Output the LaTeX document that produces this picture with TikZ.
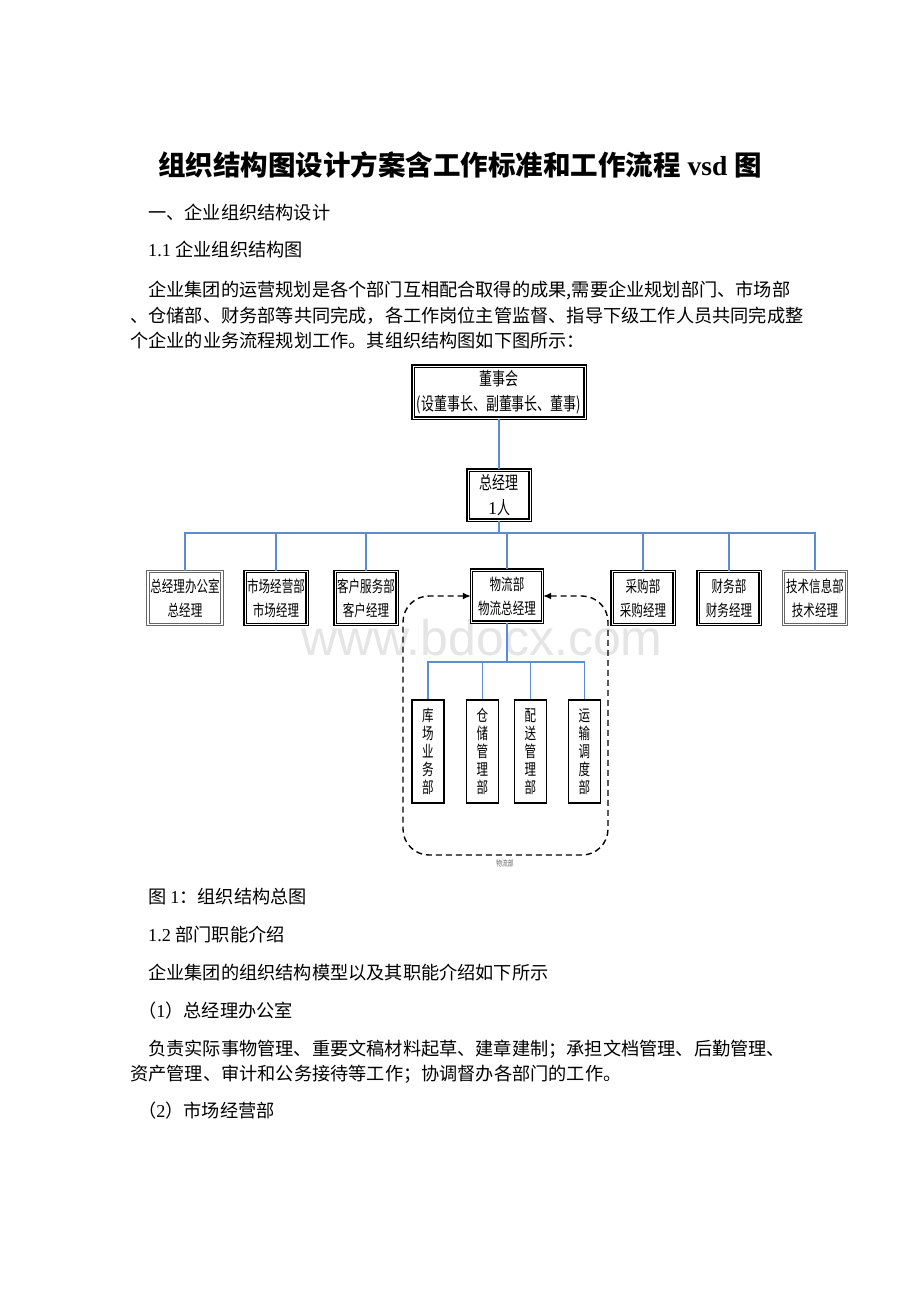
\documentclass[tikz,border=0pt]{standalone}
\usepackage{fontspec}
\setmainfont{Liberation Serif}
\setsansfont{Liberation Sans}
\newfontfamily\cjk{Noto Sans CJK SC}
\newfontfamily\cjkc[FakeStretch=0.72]{Noto Sans CJK SC}
\usetikzlibrary{arrows.meta}
\definecolor{bl}{HTML}{5B8DD6}
\newcommand\bodytxt{\cjk\fontsize{18.2}{22}\selectfont}
\begin{document}
\begin{tikzpicture}[x=1pt,y=-1pt,
  txt/.style={inner sep=0pt, anchor=west, font=\bodytxt},
  blueline/.style={draw=bl, line width=1.1pt},
  boxlbl/.style={font=\cjkc\fontsize{16}{24}\selectfont, align=center, inner sep=0pt, fill=white},
  heavybox/.style={boxlbl, draw=black, line width=1.3pt, double=white, double distance=0.9pt},
  lightbox/.style={boxlbl, draw=black!60, line width=1pt, double=white, double distance=1.2pt},
  vbox/.style={boxlbl, font=\cjkc\fontsize{16}{18}\selectfont, draw=black, line width=1.3pt, minimum width=32pt, minimum height=103pt},
  dashline/.style={draw=black, line width=1.4pt, dash pattern=on 6pt off 4pt},
]
\useasboundingbox[fill=white] (0,0) rectangle (920,1302);

% watermark
\node[font=\sffamily\fontsize{50}{50}\selectfont, text=black!10, inner sep=0pt, anchor=base] (wm) at (482,655) {www.bdocx.com};

% title and text
\node[font=\cjk\bfseries\fontsize{27.5}{30}\selectfont, inner sep=0pt] (title) at (460,165) {组织结构图设计方案含工作标准和工作流程{\rmfamily\bfseries{} vsd }图};
\node[txt] (t1) at (148,213) {一、企业组织结构设计};
\node[txt] (t2) at (148,250) {{\rmfamily 1.1 }企业组织结构图};
\node[txt] (p1) at (148,290) {企业集团的运营规划是各个部门互相配合取得的成果,需要企业规划部门、市场部};
\node[txt] (p2) at (130,316) {、仓储部、财务部等共同完成，各工作岗位主管监督、指导下级工作人员共同完成整};
\node[txt] (p3) at (130,341) {个企业的业务流程规划工作。其组织结构图如下图所示：};

\node[txt] (cap) at (148,897) {图 {\rmfamily 1}：组织结构总图};
\node[txt] (h12) at (148,935) {{\rmfamily 1.2 }部门职能介绍};
\node[txt] (q1) at (148,973) {企业集团的组织结构模型以及其职能介绍如下所示};
\node[txt] (h1) at (138,1011) {（{\rmfamily 1}）总经理办公室};
\node[txt] (q2) at (148,1049) {负责实际事物管理、重要文稿材料起草、建章建制；承担文档管理、后勤管理、};
\node[txt] (q3) at (130,1074) {资产管理、审计和公务接待等工作；协调督办各部门的工作。};
\node[txt] (h2) at (138,1111) {（{\rmfamily 2}）市场经营部};

% top boxes
\node[heavybox, minimum width=172pt, minimum height=52pt, font=\cjkc\fontsize{18}{25}\selectfont] (board) at (499,392) {董事会\\(设董事长、副董事长、董事)};
\node[heavybox, minimum width=62pt, minimum height=50pt, font=\cjkc\fontsize{18}{25}\selectfont] (gm) at (499,495) {总经理\\\textrm{1}人};

% second row
\node[lightbox, minimum width=74pt, minimum height=53pt] (off) at (185,598) {总经理办公室\\总经理};
\node[heavybox, minimum width=62pt, minimum height=53pt] (mkt) at (276,598) {市场经营部\\市场经理};
\node[heavybox, minimum width=62pt, minimum height=53pt] (cs) at (366,598) {客户服务部\\客户经理};
\node[heavybox, minimum width=71pt, minimum height=52pt] (log) at (507,596) {物流部\\物流总经理};
\node[heavybox, minimum width=62pt, minimum height=53pt] (pur) at (643,598) {采购部\\采购经理};
\node[heavybox, minimum width=62pt, minimum height=53pt] (fin) at (729,598) {财务部\\财务经理};
\node[lightbox, minimum width=63pt, minimum height=53pt] (tech) at (815,598) {技术信息部\\技术经理};

% logistics sub-departments
\node[vbox] (v1) at (428,751.5) {库\\场\\业\\务\\部};
\node[vbox] (v2) at (482.5,751.5) {仓\\储\\管\\理\\部};
\node[vbox] (v3) at (530.5,751.5) {配\\送\\管\\理\\部};
\node[vbox] (v4) at (584.5,751.5) {运\\输\\调\\度\\部};

% connectors
\coordinate (bus) at (499,533);
\coordinate (lbus) at (507,662);
\draw[blueline] (board) -- (gm);
\draw[blueline] (gm.south) -- (bus);
\foreach \c in {off,mkt,cs,log,pur,fin,tech} {\draw[blueline] (\c.north) |- (bus);}
\draw[blueline] (log.south) -- (lbus);
\foreach \c in {v1,v2,v3,v4} {\draw[blueline] (\c.north) |- (lbus);}

% dashed frame
\coordinate (fbl) at (403,855);
\coordinate (ftr) at (608,596);
\draw[dashline, rounded corners=26pt, {Latex[length=8pt,width=7pt]}-{Latex[length=8pt,width=7pt]}] (log.west) -| (fbl) -| (ftr) -- (log.east);
\node[font=\cjkc\fontsize{8}{8}\selectfont, text=black!60, inner sep=0pt] (flbl) at (505,863) {物流部};
\end{tikzpicture}
\end{document}
